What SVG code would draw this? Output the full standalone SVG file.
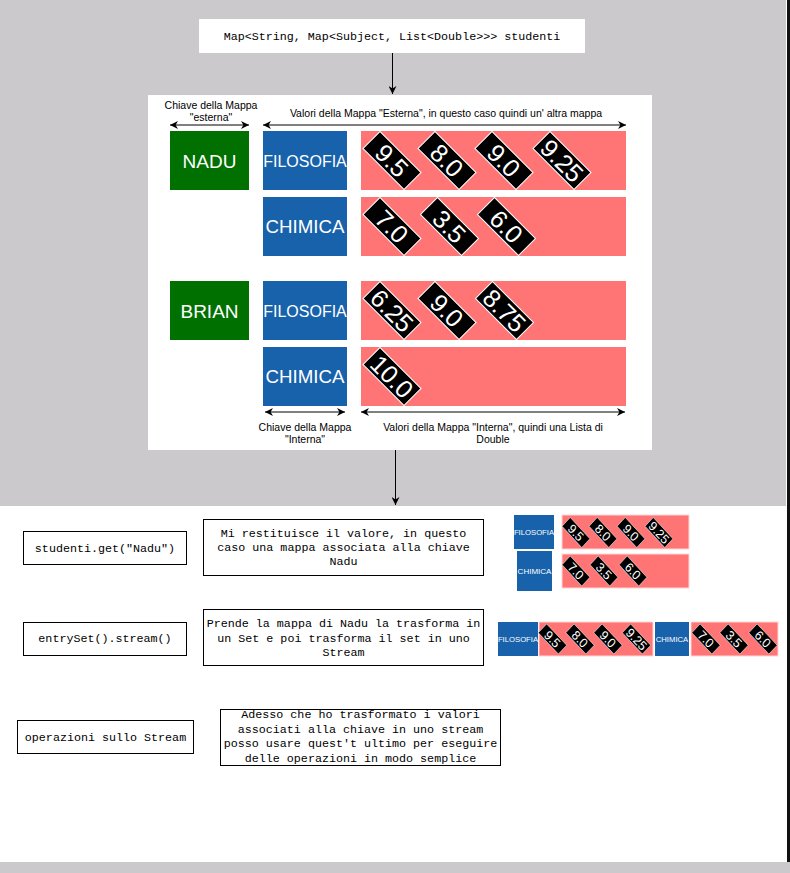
<svg xmlns="http://www.w3.org/2000/svg" width="790" height="873" viewBox="0 0 790 873">
<style>
.mono{font-family:"Liberation Mono","Courier New",monospace;font-size:11.7px;fill:#000}
.lbl{font-family:"Liberation Sans",Arial,sans-serif;font-size:10.5px;fill:#000;text-anchor:middle}
.key{font-family:"Liberation Sans",Arial,sans-serif;fill:#fff;text-anchor:middle}
.green{fill:#007000}
.blue{fill:#1862AB}
.red{fill:#FF7575}
.dia{fill:#000;stroke:#fff;stroke-width:1}
.dt{font-family:"Liberation Sans",Arial,sans-serif;font-size:25px;fill:#fff;text-anchor:middle}
.box{fill:#fff;stroke:#000;stroke-width:1}
.ln{stroke:#000;stroke-width:1;fill:none}
.smallred{fill:#FF7575;stroke:#ffd6d6;stroke-width:1}
</style>
<defs>
<marker id="ah" viewBox="0 0 10 10" refX="10" refY="5" markerWidth="8" markerHeight="8" orient="auto-start-reverse" markerUnits="userSpaceOnUse">
<path d="M0,0 L10,5 L0,10 L3,5 z" fill="#000"/>
</marker>
<g id="d">
<rect class="dia" x="-29" y="-12" width="58" height="24"/>
</g>
</defs>
<rect x="0" y="0" width="790" height="506" fill="#CBC9CC"/>
<rect x="0" y="506" width="786" height="356" fill="#fff"/>
<rect x="786" y="0" width="1" height="862" fill="#fff"/>
<rect x="787" y="0" width="3" height="862" fill="#111"/>
<rect x="0" y="862" width="790" height="11" fill="#CBC9CC"/>

<g id="top-node">
<rect x="199" y="19" width="386" height="34" fill="#fff"/>
<text class="mono" x="392" y="40" text-anchor="middle">Map&lt;String, Map&lt;Subject, List&lt;Double&gt;&gt;&gt; studenti</text>
</g>

<g id="panel">
<rect x="148" y="95" width="504" height="355" fill="#fff"/>
<text class="lbl" x="211" y="109">Chiave della Mappa</text>
<text class="lbl" x="211" y="121">"esterna"</text>
<text class="lbl" x="446" y="117">Valori della Mappa "Esterna", in questo caso quindi un' altra mappa</text>
<text class="lbl" x="305" y="431">Chiave della Mappa</text>
<text class="lbl" x="305" y="443">"Interna"</text>
<text class="lbl" x="493" y="431">Valori della Mappa "Interna", quindi una Lista di</text>
<text class="lbl" x="493" y="443">Double</text>
</g>

<g id="nadu">
<rect class="green" x="170" y="131" width="79" height="59"/>
<text class="key" x="209.5" y="167.5" font-size="19">NADU</text>
</g>
<g id="brian">
<rect class="green" x="170" y="281" width="79" height="59"/>
<text class="key" x="209.5" y="317.5" font-size="19">BRIAN</text>
</g>
<g id="nadu-filosofia">
<rect class="blue" x="263" y="131" width="84" height="59"/>
<text class="key" x="305" y="166.5" font-size="16">FILOSOFIA</text>
</g>
<g id="nadu-chimica">
<rect class="blue" x="263" y="197" width="84" height="59"/>
<text class="key" x="305" y="233" font-size="18.7">CHIMICA</text>
</g>
<g id="brian-filosofia">
<rect class="blue" x="263" y="281" width="84" height="59"/>
<text class="key" x="305" y="316.5" font-size="16">FILOSOFIA</text>
</g>
<g id="brian-chimica">
<rect class="blue" x="263" y="347" width="84" height="59"/>
<text class="key" x="305" y="383" font-size="18.7">CHIMICA</text>
</g>

<g id="nadu-filosofia-values">
<rect class="red" x="361" y="131" width="265" height="59"/>
<g transform="translate(392,160.5) rotate(45)"><use href="#d"/><text class="dt" y="9">9.5</text></g>
<g transform="translate(447,160.5) rotate(45)"><use href="#d"/><text class="dt" y="9">8.0</text></g>
<g transform="translate(504,160.5) rotate(45)"><use href="#d"/><text class="dt" y="9">9.0</text></g>
<g transform="translate(562,160.5) rotate(45)"><use href="#d"/><text class="dt" y="9">9.25</text></g>
</g>
<g id="nadu-chimica-values">
<rect class="red" x="361" y="197" width="265" height="59"/>
<g transform="translate(392,226.5) rotate(45)"><use href="#d"/><text class="dt" y="9">7.0</text></g>
<g transform="translate(449.5,226.5) rotate(45)"><use href="#d"/><text class="dt" y="9">3.5</text></g>
<g transform="translate(506.5,226.5) rotate(45)"><use href="#d"/><text class="dt" y="9">6.0</text></g>
</g>
<g id="brian-filosofia-values">
<rect class="red" x="361" y="281" width="265" height="59"/>
<g transform="translate(392,310.5) rotate(45)"><use href="#d"/><text class="dt" y="9">6.25</text></g>
<g transform="translate(447,310.5) rotate(45)"><use href="#d"/><text class="dt" y="9">9.0</text></g>
<g transform="translate(504.5,310.5) rotate(45)"><use href="#d"/><text class="dt" y="9">8.75</text></g>
</g>
<g id="brian-chimica-values">
<rect class="red" x="361" y="347" width="265" height="59"/>
<g transform="translate(392,376.5) rotate(45)"><use href="#d"/><text class="dt" y="9">10.0</text></g>
</g>

<g id="get-node">
<rect class="box" x="23.5" y="531.5" width="163" height="33"/>
<text class="mono" x="105" y="551.5" text-anchor="middle">studenti.get("Nadu")</text>
</g>
<g id="get-desc">
<rect class="box" x="203.5" y="519.5" width="280" height="56"/>
<text class="mono" x="343.5" y="536.7" text-anchor="middle">Mi restituisce il valore, in questo</text>
<text class="mono" x="343.5" y="550.9" text-anchor="middle">caso una mappa associata alla chiave</text>
<text class="mono" x="343.5" y="565.1" text-anchor="middle">Nadu</text>
</g>
<g id="get-image">
<rect class="blue" x="514" y="515" width="40" height="34"/>
<text class="key" x="534" y="535" font-size="7.7">FILOSOFIA</text>
<rect class="smallred" x="562" y="515" width="127" height="34"/>
<g transform="translate(576,532.5) scale(0.48,0.52) rotate(45)"><use href="#d"/><text class="dt" y="9">9.5</text></g>
<g transform="translate(603,532.5) scale(0.48,0.52) rotate(45)"><use href="#d"/><text class="dt" y="9">8.0</text></g>
<g transform="translate(631,532.5) scale(0.48,0.52) rotate(45)"><use href="#d"/><text class="dt" y="9">9.0</text></g>
<g transform="translate(659,532.5) scale(0.48,0.52) rotate(45)"><use href="#d"/><text class="dt" y="9">9.25</text></g>
<rect class="blue" x="517" y="551" width="35" height="40"/>
<text class="key" x="534.5" y="574" font-size="8">CHIMICA</text>
<rect class="smallred" x="562" y="554" width="127" height="34"/>
<g transform="translate(576,571) scale(0.48,0.52) rotate(45)"><use href="#d"/><text class="dt" y="9">7.0</text></g>
<g transform="translate(604,571) scale(0.48,0.52) rotate(45)"><use href="#d"/><text class="dt" y="9">3.5</text></g>
<g transform="translate(633,571) scale(0.48,0.52) rotate(45)"><use href="#d"/><text class="dt" y="9">6.0</text></g>
</g>

<g id="stream-node">
<rect class="box" x="23.5" y="622.5" width="163" height="33"/>
<text class="mono" x="105" y="641.7" text-anchor="middle">entrySet().stream()</text>
</g>
<g id="stream-desc">
<rect class="box" x="203.5" y="609.5" width="280" height="56"/>
<text class="mono" x="343.5" y="626.7" text-anchor="middle">Prende la mappa di Nadu la trasforma in</text>
<text class="mono" x="343.5" y="641.5" text-anchor="middle">un Set e poi trasforma il set in uno</text>
<text class="mono" x="343.5" y="656" text-anchor="middle">Stream</text>
</g>
<g id="stream-image">
<rect class="blue" x="498" y="622" width="40" height="34"/>
<text class="key" x="518" y="642" font-size="7.7">FILOSOFIA</text>
<rect class="smallred" x="539" y="622" width="114" height="34"/>
<g transform="translate(552.5,639) scale(0.49,0.52) rotate(45)"><use href="#d"/><text class="dt" y="9">9.5</text></g>
<g transform="translate(580,639) scale(0.49,0.52) rotate(45)"><use href="#d"/><text class="dt" y="9">8.0</text></g>
<g transform="translate(608,639) scale(0.49,0.52) rotate(45)"><use href="#d"/><text class="dt" y="9">9.0</text></g>
<g transform="translate(636.5,639) scale(0.49,0.52) rotate(45)"><use href="#d"/><text class="dt" y="9">9.25</text></g>
<rect class="blue" x="655" y="622" width="34" height="34"/>
<text class="key" x="672" y="642" font-size="7.7">CHIMICA</text>
<rect class="smallred" x="691" y="622" width="87" height="34"/>
<g transform="translate(706,639) scale(0.49,0.52) rotate(45)"><use href="#d"/><text class="dt" y="9">7.0</text></g>
<g transform="translate(734,639) scale(0.49,0.52) rotate(45)"><use href="#d"/><text class="dt" y="9">3.5</text></g>
<g transform="translate(763,639) scale(0.49,0.52) rotate(45)"><use href="#d"/><text class="dt" y="9">6.0</text></g>
</g>

<g id="ops-node">
<rect class="box" x="17.5" y="720.5" width="176" height="33"/>
<text class="mono" x="105.5" y="740.7" text-anchor="middle">operazioni sullo Stream</text>
</g>
<g id="ops-desc">
<rect class="box" x="220.5" y="709.5" width="280" height="56"/>
<text class="mono" x="360.5" y="718.3" text-anchor="middle">Adesso che ho trasformato i valori</text>
<text class="mono" x="360.5" y="732.7" text-anchor="middle">associati alla chiave in uno stream</text>
<text class="mono" x="360.5" y="747.2" text-anchor="middle">posso usare quest't ultimo per eseguire</text>
<text class="mono" x="360.5" y="761.6" text-anchor="middle">delle operazioni in modo semplice</text>
</g>

<g id="connectors">
<line class="ln" x1="392.5" y1="53" x2="392.5" y2="94" marker-end="url(#ah)"/>
<line class="ln" x1="395.5" y1="450" x2="395.5" y2="505" marker-end="url(#ah)"/>
<line class="ln" x1="170" y1="125" x2="249" y2="125" marker-start="url(#ah)" marker-end="url(#ah)"/>
<line class="ln" x1="263" y1="125" x2="626" y2="125" marker-start="url(#ah)" marker-end="url(#ah)"/>
<line class="ln" x1="265" y1="412" x2="345" y2="412" marker-start="url(#ah)" marker-end="url(#ah)"/>
<line class="ln" x1="361" y1="412" x2="625" y2="412" marker-start="url(#ah)" marker-end="url(#ah)"/>
</g>
</svg>
